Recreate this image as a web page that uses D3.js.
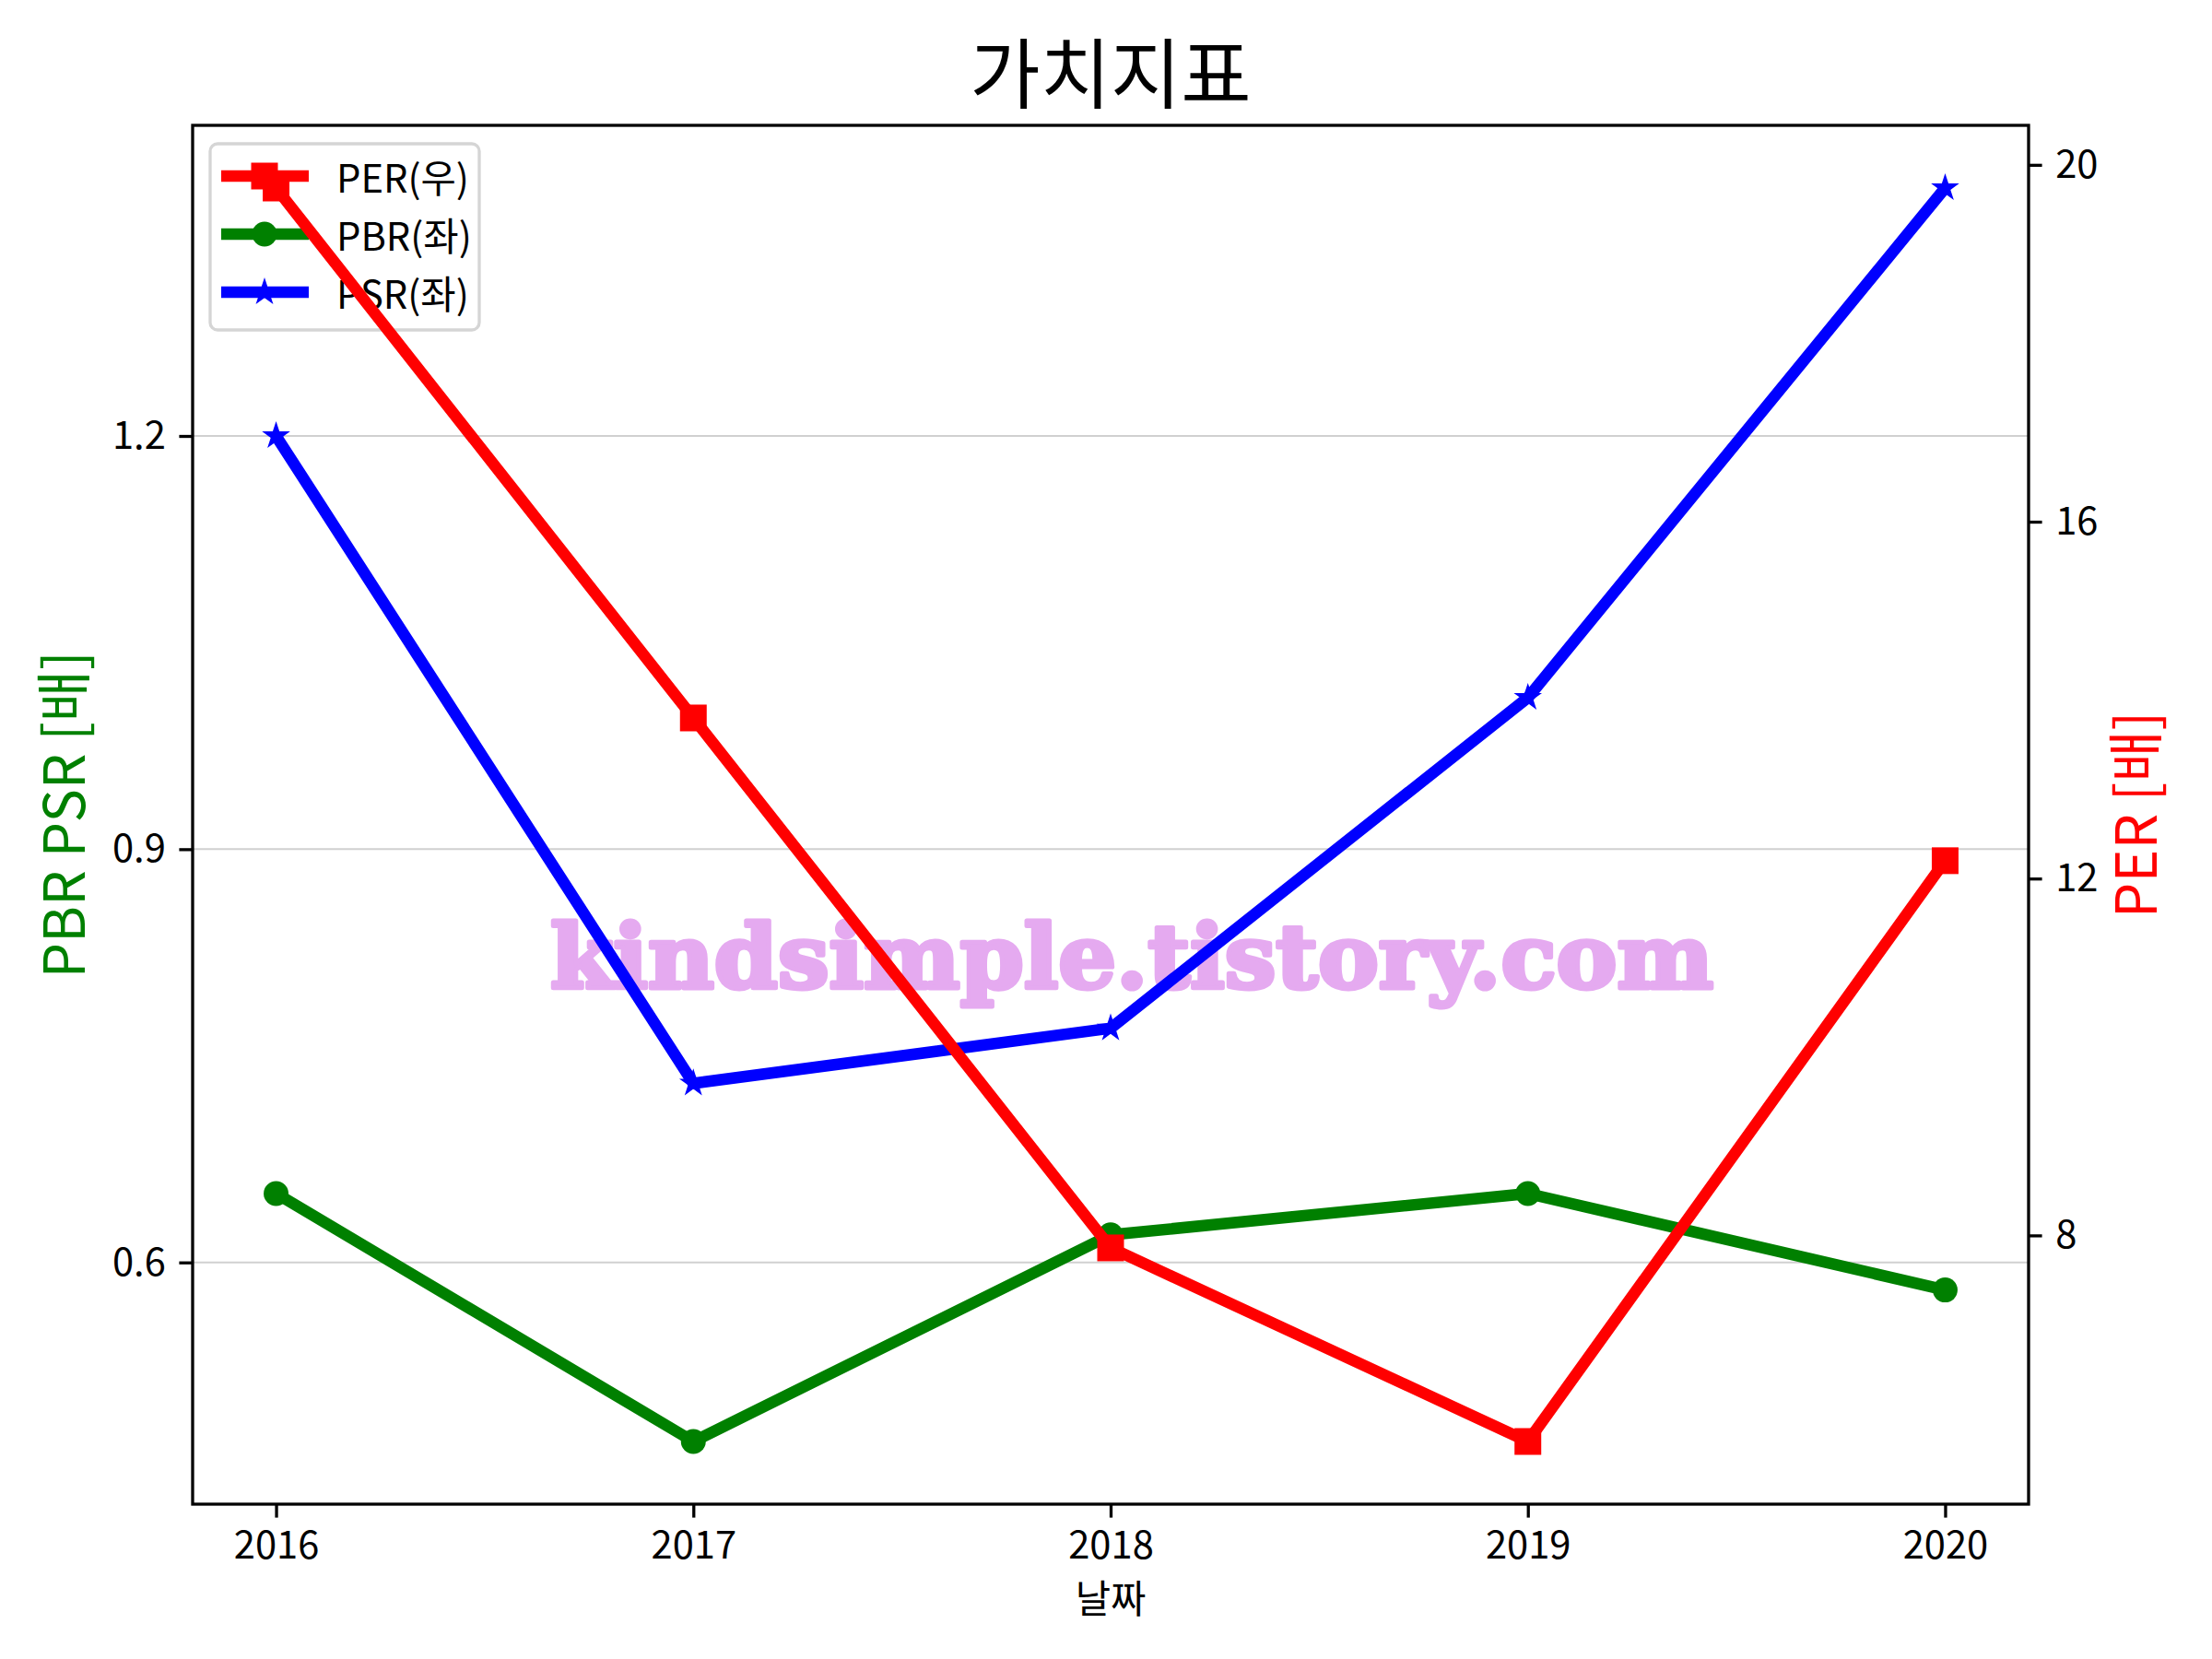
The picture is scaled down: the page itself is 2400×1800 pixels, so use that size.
<!DOCTYPE html>
<html>
<head>
<meta charset="utf-8">
<script src="https://cdn.jsdelivr.net/npm/d3@7"></script>
<style>
body { margin: 0; background: #fff; }
text { font-family: "Noto Sans CJK KR", "Noto Sans", sans-serif; }
</style>
</head>
<body>
<svg id="chart" width="2400" height="1800"></svg>
<script>
// values
var years = [2016, 2017, 2018, 2019, 2020]
var per = [19.74, 13.8, 7.86, 5.69, 12.2]
var pbr = [0.65, 0.47, 0.62, 0.65, 0.58]
var psr = [1.2, 0.73, 0.77, 1.01, 1.38]
var leftTicks = [0.6, 0.9, 1.2]
var rightTicks = [8, 12, 16, 20]
var legendNames = ["PER(우)", "PBR(좌)", "PSR(좌)"]

// plot box (note: "top" is a read-only window global, so prefix these)
var pLeft = 209, pRight = 2201, pTop = 136, pBottom = 1632
var lw = 12.5, spine = 3.3, tickLen = 14.6, tickPad = 14.6
var fs = 41.7

// matplotlib-like 5% margins
function pad(vals) {
    var e = d3.extent(vals), r = e[1] - e[0]
    return [e[0] - 0.05 * r, e[1] + 0.05 * r]
}

var svg = d3.select("#chart")

var x = d3.scaleLinear().domain(pad(years)).range([pLeft, pRight])
var yL = d3.scaleLinear().domain(pad(pbr.concat(psr))).range([pBottom, pTop])
var yR = d3.scaleLinear().domain(pad(per)).range([pBottom, pTop])

// grid from the left axis
svg.append("g").selectAll("line")
    .data(leftTicks).enter().append("line")
    .attr("x1", pLeft).attr("x2", pRight)
    .attr("y1", function(d) { return yL(d) })
    .attr("y2", function(d) { return yL(d) })
    .attr("stroke", "#d0d0d0")
    .attr("stroke-width", 2)

// watermark
svg.append("text")
    .attr("x", 597).attr("y", 1072)
    .attr("textLength", 1262)
    .attr("lengthAdjust", "spacingAndGlyphs")
    .style("font-family", "'DejaVu Serif', serif")
    .style("font-weight", "bold")
    .style("font-size", "96px")
    .attr("fill", "#e5aaf0")
    .attr("stroke", "#e5aaf0")
    .attr("stroke-width", 5)
    .attr("stroke-linejoin", "round")
    .text("kindsimple.tistory.com")

var symSquare = d3.symbol().type(d3.symbolSquare).size(841)
var symCircle = d3.symbol().type(d3.symbolCircle).size(572)
var symStar = d3.symbol().type(d3.symbolStar).size(290)

function series(vals, yScale, color, sym) {
    var g = svg.append("g")
    var line = d3.line()
        .x(function(d, i) { return x(years[i]) })
        .y(function(d) { return yScale(d) })
    g.append("path")
        .attr("d", line(vals))
        .attr("fill", "none")
        .attr("stroke", color)
        .attr("stroke-width", lw)
        .attr("stroke-linejoin", "round")
    g.selectAll("path.m")
        .data(vals).enter().append("path")
        .attr("class", "m")
        .attr("d", sym)
        .attr("transform", function(d, i) {
            return "translate(" + x(years[i]) + "," + yScale(d) + ")"
        })
        .attr("fill", color)
}

series(pbr, yL, "green", symCircle)
series(psr, yL, "blue", symStar)

// legend (belongs to left axes, so PER line passes over it)
var legend = svg.append("g")
legend.append("rect")
    .attr("x", 228).attr("y", 156)
    .attr("width", 292).attr("height", 202)
    .attr("rx", 8)
    .attr("fill", "#fff").attr("fill-opacity", 0.8)
    .attr("stroke", "#d5d5d5").attr("stroke-width", spine)
var legColors = ["red", "green", "blue"]
var legSyms = [symSquare, symCircle, symStar]
legendNames.forEach(function(name, i) {
    var yy = 191 + i * 63
    legend.append("line")
        .attr("x1", 240).attr("x2", 335)
        .attr("y1", yy).attr("y2", yy)
        .attr("stroke", legColors[i]).attr("stroke-width", lw)
    legend.append("path")
        .attr("d", legSyms[i]())
        .attr("transform", "translate(287," + yy + ")")
        .attr("fill", legColors[i])
    legend.append("text")
        .attr("x", 365).attr("y", yy)
        .attr("dominant-baseline", "central")
        .style("font-size", fs + "px")
        .text(name)
})

series(per, yR, "red", symSquare)

// spines
svg.append("rect")
    .attr("x", pLeft).attr("y", pTop)
    .attr("width", pRight - pLeft).attr("height", pBottom - pTop)
    .attr("fill", "none")
    .attr("stroke", "#000").attr("stroke-width", spine)

function styleAxis(g) {
    g.select(".domain").remove()
    g.selectAll(".tick line").attr("stroke-width", spine)
    g.selectAll(".tick text").style("font-size", fs + "px").attr("fill", "#000")
        .style("font-family", "'Noto Sans CJK KR', sans-serif")
}

svg.append("g")
    .attr("transform", "translate(0," + pBottom + ")")
    .call(d3.axisBottom(x).tickValues(years).tickFormat(d3.format("d"))
        .tickSize(tickLen).tickPadding(tickPad))
    .call(styleAxis)

svg.append("g")
    .attr("transform", "translate(" + pLeft + ",0)")
    .call(d3.axisLeft(yL).tickValues(leftTicks).tickFormat(d3.format(".1f"))
        .tickSize(tickLen).tickPadding(tickPad))
    .call(styleAxis)

svg.append("g")
    .attr("transform", "translate(" + pRight + ",0)")
    .call(d3.axisRight(yR).tickValues(rightTicks).tickFormat(d3.format("d"))
        .tickSize(tickLen).tickPadding(tickPad))
    .call(styleAxis)

// labels
var midY = (pTop + pBottom) / 2, midX = (pLeft + pRight) / 2
svg.append("text")
    .attr("transform", "translate(92," + midY + ") rotate(-90)")
    .attr("text-anchor", "middle")
    .style("font-size", "61px")
    .attr("fill", "green")
    .text("PBR PSR [배]")

svg.append("text")
    .attr("transform", "translate(2340," + midY + ") rotate(-90)")
    .attr("text-anchor", "middle")
    .style("font-size", "61px")
    .attr("fill", "red")
    .text("PER [배]")

svg.append("text")
    .attr("x", midX).attr("y", 1750)
    .attr("text-anchor", "middle")
    .style("font-size", fs + "px")
    .text("날짜")

svg.append("text")
    .attr("x", midX).attr("y", 111)
    .attr("text-anchor", "middle")
    .style("font-size", "83px")
    .text("가치지표")
</script>
</body>
</html>
